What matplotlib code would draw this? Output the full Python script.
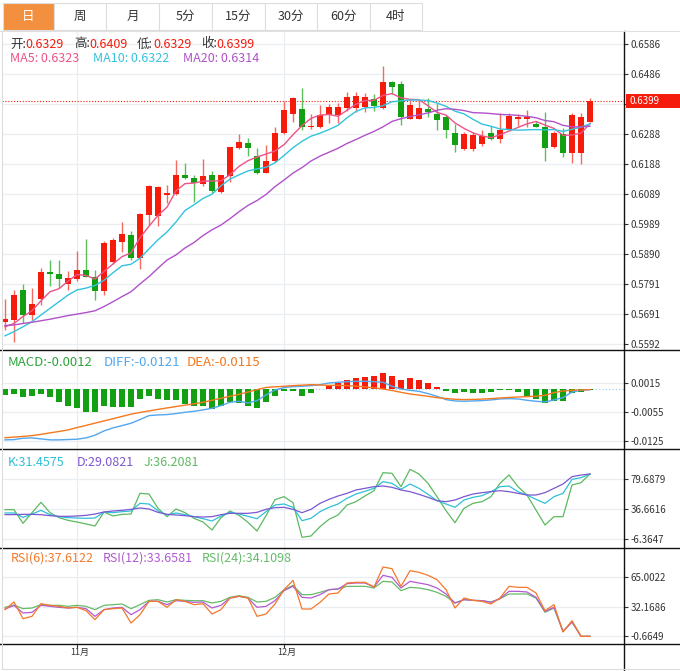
import matplotlib
matplotlib.use('Agg')
import matplotlib.pyplot as plt
import matplotlib.transforms as mtransforms
import numpy as np
from matplotlib.patches import Rectangle
from matplotlib.lines import Line2D

plt.rcParams['font.family'] = ['Noto Sans CJK SC', 'DejaVu Sans']

# data ---------------------------------------------------------------------

tabs = ['日', '周', '月', '5分', '15分', '30分', '60分', '4时']

opens = [0.5665, 0.5673, 0.5772, 0.5689, 0.5742, 0.5832, 0.5824, 0.5793, 0.5808, 0.5837,
         0.5816, 0.5770, 0.5865, 0.5932, 0.5954, 0.5879, 0.6020, 0.6018, 0.6088, 0.6091,
         0.6152, 0.6144, 0.6124, 0.6152, 0.6095, 0.6148, 0.6243, 0.6259, 0.6215, 0.6160,
         0.6200, 0.6292, 0.6354, 0.6371, 0.6312, 0.6312, 0.6351, 0.6350, 0.6376, 0.6376,
         0.6377, 0.6403, 0.6373, 0.6460, 0.6455, 0.6339, 0.6339, 0.6370, 0.6355, 0.6344,
         0.6292, 0.6240, 0.6240, 0.6256, 0.6292, 0.6272, 0.6304, 0.6339, 0.6339, 0.6321,
         0.6312, 0.6245, 0.6289, 0.6224, 0.6224, 0.6329]
highs = [0.5741, 0.5772, 0.5792, 0.5777, 0.5844, 0.5871, 0.5871, 0.5835, 0.5902, 0.5941,
         0.5838, 0.5934, 0.5943, 0.5998, 0.5968, 0.6026, 0.6120, 0.6116, 0.6120, 0.6202,
         0.6191, 0.6153, 0.6205, 0.6166, 0.6152, 0.6246, 0.6288, 0.6275, 0.6242, 0.6252,
         0.6311, 0.6399, 0.6412, 0.6441, 0.6354, 0.6385, 0.6387, 0.6390, 0.6426, 0.6426,
         0.6423, 0.6420, 0.6514, 0.6465, 0.6463, 0.6403, 0.6397, 0.6407, 0.6390, 0.6351,
         0.6321, 0.6296, 0.6296, 0.6300, 0.6316, 0.6357, 0.6357, 0.6355, 0.6368, 0.6333,
         0.6362, 0.6297, 0.6307, 0.6357, 0.6359, 0.6409]
lows = [0.5639, 0.5598, 0.5662, 0.5673, 0.5722, 0.5785, 0.5780, 0.5772, 0.5803, 0.5814,
        0.5739, 0.5755, 0.5858, 0.5897, 0.5871, 0.5840, 0.5987, 0.5985, 0.6059, 0.6086,
        0.6139, 0.6064, 0.6116, 0.6094, 0.6092, 0.6130, 0.6240, 0.6217, 0.6156, 0.6158,
        0.6197, 0.6289, 0.6327, 0.6302, 0.6304, 0.6309, 0.6326, 0.6326, 0.6366, 0.6362,
        0.6360, 0.6366, 0.6371, 0.6420, 0.6318, 0.6338, 0.6338, 0.6344, 0.6300, 0.6276,
        0.6230, 0.6236, 0.6233, 0.6250, 0.6269, 0.6258, 0.6302, 0.6316, 0.6313, 0.6311,
        0.6200, 0.6241, 0.6211, 0.6191, 0.6190, 0.6329]
closes = [0.5676, 0.5755, 0.5689, 0.5726, 0.5832, 0.5826, 0.5808, 0.5811, 0.5837, 0.5816,
          0.5770, 0.5929, 0.5937, 0.5958, 0.5879, 0.6024, 0.6116, 0.6114, 0.6093, 0.6152,
          0.6142, 0.6126, 0.6148, 0.6098, 0.6152, 0.6244, 0.6263, 0.6243, 0.6160, 0.6199,
          0.6293, 0.6369, 0.6408, 0.6313, 0.6315, 0.6351, 0.6378, 0.6379, 0.6412, 0.6414,
          0.6412, 0.6382, 0.6460, 0.6444, 0.6344, 0.6385, 0.6376, 0.6360, 0.6335, 0.6300,
          0.6252, 0.6289, 0.6285, 0.6283, 0.6272, 0.6302, 0.6348, 0.6344, 0.6344, 0.6313,
          0.6243, 0.6292, 0.6227, 0.6351, 0.6344, 0.6399]

ma5 = [0.5650, 0.5661, 0.5684, 0.5703, 0.5736, 0.5766, 0.5776, 0.5801, 0.5823, 0.5820,
       0.5808, 0.5833, 0.5858, 0.5882, 0.5895, 0.5945, 0.5983, 0.6019, 0.6046, 0.6100,
       0.6124, 0.6126, 0.6132, 0.6133, 0.6133, 0.6154, 0.6181, 0.6200, 0.6212, 0.6222,
       0.6232, 0.6253, 0.6286, 0.6316, 0.6340, 0.6351, 0.6353, 0.6347, 0.6367, 0.6387,
       0.6399, 0.6400, 0.6416, 0.6422, 0.6408, 0.6403, 0.6402, 0.6382, 0.6360, 0.6351,
       0.6325, 0.6307, 0.6292, 0.6282, 0.6276, 0.6286, 0.6298, 0.6310, 0.6322, 0.6330,
       0.6318, 0.6307, 0.6284, 0.6285, 0.6291, 0.6323]
ma10 = [0.5620, 0.5634, 0.5650, 0.5667, 0.5689, 0.5711, 0.5733, 0.5755, 0.5772, 0.5778,
        0.5787, 0.5804, 0.5829, 0.5852, 0.5857, 0.5877, 0.5908, 0.5938, 0.5964, 0.5997,
        0.6035, 0.6054, 0.6075, 0.6089, 0.6117, 0.6139, 0.6153, 0.6166, 0.6173, 0.6178,
        0.6193, 0.6217, 0.6243, 0.6264, 0.6281, 0.6291, 0.6303, 0.6317, 0.6342, 0.6363,
        0.6375, 0.6376, 0.6382, 0.6395, 0.6398, 0.6401, 0.6401, 0.6399, 0.6391, 0.6380,
        0.6364, 0.6355, 0.6337, 0.6321, 0.6314, 0.6305, 0.6303, 0.6301, 0.6302, 0.6303,
        0.6302, 0.6303, 0.6297, 0.6304, 0.6311, 0.6322]
ma20 = [0.5654, 0.5656, 0.5661, 0.5665, 0.5670, 0.5675, 0.5681, 0.5687, 0.5692, 0.5697,
        0.5703, 0.5717, 0.5733, 0.5750, 0.5766, 0.5792, 0.5816, 0.5844, 0.5871, 0.5888,
        0.5911, 0.5929, 0.5952, 0.5971, 0.5987, 0.6008, 0.6031, 0.6052, 0.6068, 0.6088,
        0.6114, 0.6136, 0.6159, 0.6177, 0.6199, 0.6215, 0.6228, 0.6241, 0.6257, 0.6270,
        0.6284, 0.6297, 0.6312, 0.6330, 0.6339, 0.6346, 0.6352, 0.6358, 0.6367, 0.6372,
        0.6370, 0.6366, 0.6359, 0.6358, 0.6356, 0.6353, 0.6352, 0.6350, 0.6347, 0.6342,
        0.6333, 0.6329, 0.6317, 0.6312, 0.6312, 0.6314]

macd = [-0.00135, -0.0012, -0.00199, -0.00159, -0.00111, -0.00199, -0.00318, -0.00413, -0.00453, -0.00541,
        -0.00541, -0.00398, -0.00429, -0.00437, -0.00437, -0.00231, -0.00159, -0.00231, -0.00270, -0.00270,
        -0.00358, -0.00398, -0.00413, -0.00469, -0.00413, -0.00310, -0.00334, -0.00413, -0.00453, -0.00318,
        -0.00159, -0.00056, -0.00056, -0.00159, -0.00095, 0.00010, 0.00080, 0.00143, 0.00215, 0.00262,
        0.00286, 0.00310, 0.00382, 0.00318, 0.00223, 0.00262, 0.00207, 0.00143, 0.00056, -0.00040,
        -0.00087, -0.00064, -0.00087, -0.00087, -0.00080, -0.00032, -0.00024, -0.00080, -0.00159, -0.00239,
        -0.00334, -0.00278, -0.00278, -0.00103, -0.00064, -0.00030]
dif = [-0.01216, -0.0121, -0.01177, -0.01169, -0.01193, -0.01216, -0.01216, -0.01208, -0.01200, -0.01169,
       -0.01105, -0.01002, -0.00930, -0.00875, -0.00819, -0.00731, -0.00636, -0.00620, -0.00612, -0.00588,
       -0.00557, -0.00533, -0.00501, -0.00461, -0.00398, -0.00318, -0.00294, -0.00334, -0.00278, -0.00143,
       -0.00024, 0.00032, 0.00056, 0.00064, 0.00080, 0.00103, 0.00143, 0.00159, 0.00175, 0.00183,
       0.00183, 0.00175, 0.00159, 0.00064, 0.00000, -0.00032, -0.00056, -0.00111, -0.00175, -0.00254,
       -0.00286, -0.00294, -0.00286, -0.00278, -0.00262, -0.00239, -0.00231, -0.00239, -0.00270, -0.00294,
       -0.00310, -0.00262, -0.00207, -0.00072, -0.00032, -0.00016]
dea = [-0.01165, -0.0115, -0.01133, -0.01115, -0.01084, -0.01049, -0.01015, -0.00978, -0.00922, -0.00871,
       -0.00816, -0.00763, -0.00710, -0.00656, -0.00602, -0.00561, -0.00525, -0.00488, -0.00453, -0.00420,
       -0.00387, -0.00355, -0.00318, -0.00270, -0.00223, -0.00175, -0.00127, -0.00072, -0.00016, 0.00036,
       0.00052, 0.00064, 0.00080, 0.00091, 0.00103, 0.00095, 0.00087, 0.00087, 0.00080, 0.00068,
       0.00048, 0.00028, 0.00000, -0.00036, -0.00080, -0.00119, -0.00147, -0.00175, -0.00207, -0.00227,
       -0.00246, -0.00254, -0.00250, -0.00242, -0.00231, -0.00215, -0.00203, -0.00191, -0.00183, -0.00173,
       -0.00151, -0.00087, -0.00048, -0.00032, -0.00024, -0.00016]

kdj_k = [31.46, 31.4575, 25.18, 29.96, 35.22, 29.01, 26.14, 24.71, 24.23, 23.75,
         24.23, 32.83, 31.88, 33.31, 34.27, 45.26, 44.31, 34.75, 28.53, 31.40,
         29.01, 26.14, 23.27, 19.92, 27.10, 32.36, 29.96, 26.62, 23.27, 33.31,
         42.87, 44.31, 39.53, 20.40, 23.75, 33.31, 39.53, 44.31, 52.44, 58.65,
         62.48, 66.78, 76.34, 73.95, 65.34, 72.99, 66.78, 58.17, 49.09, 44.31,
         39.53, 50.04, 53.87, 56.26, 62.00, 69.17, 70.13, 62.00, 57.22, 51.00,
         45.26, 54.83, 59.61, 79.69, 82.08, 87.34]
kdj_d = [29.08, 29.0821, 29.49, 29.49, 29.01, 27.57, 26.62, 26.62, 27.10, 28.05,
         29.96, 32.83, 34.27, 35.22, 36.66, 38.57, 37.14, 32.36, 29.49, 28.53,
         27.57, 26.14, 25.66, 26.14, 29.01, 30.92, 30.92, 30.92, 32.36, 36.66,
         39.05, 39.53, 36.66, 31.88, 36.66, 45.26, 51.00, 55.78, 59.61, 64.39,
         66.78, 69.17, 70.13, 68.21, 64.39, 62.00, 58.17, 53.87, 49.09, 47.65,
         50.04, 54.83, 58.65, 60.56, 62.00, 63.43, 62.00, 59.61, 57.22, 57.22,
         60.56, 66.78, 72.99, 83.51, 85.90, 87.34]
kdj_j = [36.21, 36.2081, 16.58, 31.88, 46.70, 31.88, 24.71, 20.88, 18.49, 15.62,
         12.75, 32.83, 27.10, 29.49, 29.96, 59.61, 58.65, 38.09, 26.14, 37.14,
         31.88, 23.75, 18.49, 7.02, 24.71, 34.27, 28.05, 18.01, 5.58, 27.57,
         50.52, 54.83, 46.22, -3.50, -1.59, 11.80, 22.32, 28.53, 42.87, 47.65,
         55.78, 63.43, 89.25, 88.29, 69.17, 94.03, 87.34, 73.95, 54.83, 34.75,
         17.53, 38.09, 45.26, 47.65, 54.83, 73.95, 85.90, 69.17, 57.22, 35.70,
         14.19, 26.14, 26.14, 71.56, 74.91, 87.34]

rsi6 = [29.02, 37.6122, 19.00, 21.60, 35.69, 33.84, 32.73, 30.87, 31.61, 27.90,
        17.89, 29.02, 30.13, 30.87, 14.18, 23.45, 38.29, 38.29, 31.61, 40.14,
        38.29, 34.58, 35.69, 24.19, 29.02, 42.00, 43.86, 42.00, 21.60, 24.19,
        35.32, 51.28, 61.66, 29.76, 29.76, 37.18, 46.45, 47.57, 58.70, 59.44,
        59.44, 54.24, 76.50, 74.65, 54.98, 72.42, 70.57, 67.23, 62.40, 51.28,
        30.87, 42.00, 39.40, 38.29, 35.32, 42.00, 54.98, 53.87, 53.87, 47.57,
        27.90, 34.58, 4.16, 16.77, -0.67, -0.67]
rsi12 = [29.76, 33.6581, 25.31, 26.05, 33.84, 32.73, 31.61, 30.87, 31.61, 30.13,
         21.60, 29.02, 30.87, 31.61, 23.45, 29.02, 38.29, 38.29, 34.58, 39.03,
         38.29, 37.18, 37.55, 30.87, 33.84, 42.00, 43.86, 42.00, 31.61, 32.73,
         39.03, 50.16, 54.98, 42.74, 42.00, 45.71, 51.28, 52.02, 57.95, 58.70,
         58.70, 54.24, 67.23, 65.00, 53.13, 60.55, 58.70, 56.84, 53.13, 46.45,
         36.44, 40.14, 39.40, 39.03, 37.18, 41.26, 49.42, 49.42, 48.68, 42.74,
         27.16, 31.61, 4.90, 15.29, -0.67, -0.67]
rsi24 = [31.61, 34.1098, 30.13, 30.87, 34.58, 33.84, 33.84, 32.73, 33.84, 32.73,
         29.02, 33.84, 34.58, 35.32, 30.13, 34.58, 39.40, 40.14, 37.55, 40.14,
         39.40, 39.03, 39.03, 36.44, 38.29, 42.74, 44.60, 42.74, 37.55, 38.29,
         42.74, 51.28, 56.10, 45.71, 45.71, 48.31, 51.28, 52.02, 54.98, 54.98,
         54.98, 53.13, 60.55, 59.81, 50.16, 53.87, 53.13, 51.28, 48.31, 43.86,
         36.44, 40.14, 39.40, 39.03, 37.55, 41.26, 46.45, 46.45, 46.45, 42.00,
         26.05, 30.87, 4.90, 15.29, -0.67, -0.67]

month_pos = [8, 31]
month_labels = ['11月', '12月']

price_ticks = [0.6586, 0.6486, 0.6387, 0.6288, 0.6188, 0.6089, 0.5989, 0.5890, 0.5791, 0.5691, 0.5592]
macd_ticks = [0.0015, -0.0055, -0.0125]
kdj_ticks = [79.6879, 36.6616, -6.3647]
rsi_ticks = [65.0022, 32.1686, -0.6649]

# style ----------------------------------------------------------------------

RED = '#f51c0c'
GREEN = '#12a012'
RED_WICK = '#f46a5f'
GREEN_WICK = '#5cbf5c'
DARK = '#333333'
GRID = '#e8eef2'
C_MA5, C_MA10, C_MA20 = '#ee5289', '#33c3de', '#b152c9'
C_MACD, C_DIF, C_DEA = '#2ea43c', '#52a7ef', '#f5781f'
C_K, C_D, C_J = '#2fc0d8', '#7b57d2', '#5cb95f'
C_R6, C_R12, C_R24 = '#f5782a', '#b35ad2', '#66bb6a'

W, H = 680, 671
fig = plt.figure(figsize=(W / 100, H / 100), dpi=100)
fig.patch.set_facecolor('white')


def fx(x):
    return x / W


def fy(y):
    return 1 - y / H


def panel(top, bottom, ticks, labels, ylim):
    """Axes placed by pixel box, sharing the candle x scale."""
    ax = fig.add_axes([fx(2), fy(bottom), 622 / W, (bottom - top) / H])
    ax.set_xlim(-1 / 3, 619 / 9)
    ax.set_ylim(*ylim)
    for s in ax.spines.values():
        s.set_visible(False)
    ax.tick_params(axis='x', bottom=False, labelbottom=False)
    ax.yaxis.tick_right()
    ax.set_yticks(ticks, labels)
    ax.tick_params(axis='y', length=3, width=0.8, color=DARK, pad=1.5,
                   labelsize=7, labelcolor=DARK)
    ax.grid(axis='y', color=GRID, lw=0.9)
    for m in month_pos:
        ax.axvline(m, color=GRID, lw=0.9, zorder=0)
    ax.set_axisbelow(True)
    ax.patch.set_alpha(0)
    return ax


def pieces(x0, y, parts, size=9):
    """Write coloured text pieces one after another."""
    r = fig.canvas.get_renderer()
    x = x0
    for s, c in parts:
        t = fig.text(fx(x), fy(y), s, color=c, fontsize=size, va='center', ha='left')
        x += t.get_window_extent(renderer=r).width


def fmt4(vals):
    return [f'{v:.4f}' for v in vals]


x = np.arange(len(closes))
o = np.array(opens)
c = np.array(closes)
up = c >= o

# tabs -------------------------------------------------------------------------
edges = [3, 54, 106, 159, 212, 265, 317, 370, 422]
for i, name in enumerate(tabs):
    x0, x1 = edges[i], edges[i + 1]
    fc = '#f2903f' if i == 0 else 'white'
    fig.add_artist(Rectangle((fx(x0), fy(30)), (x1 - x0) / W, 27 / H,
                             facecolor=fc, edgecolor='#dddddd', lw=0.8))
    fig.text(fx((x0 + x1) / 2), fy(16.5), name, ha='center', va='center',
             fontsize=9, color='white' if i == 0 else DARK)

# main price panel ---------------------------------------------------------------
# the tick nearest the last price sits under the price flag, so its text is hidden
price_labels = ['' if abs(v - closes[-1]) < 0.002 else f'{v:.4f}' for v in price_ticks]
ax = panel(31, 350, price_ticks, price_labels, (0.55731, 0.66294))
ax.vlines(x, lows, highs, colors=np.where(up, RED_WICK, GREEN_WICK), lw=1, zorder=2)
body = np.maximum(np.abs(c - o), 0.00033)
ax.bar(x, body, bottom=np.minimum(o, c), width=0.72,
       color=np.where(up, RED, GREEN), lw=0, zorder=3)
ax.plot(x, ma5, color=C_MA5, lw=1, zorder=4)
ax.plot(x, ma10, color=C_MA10, lw=1, zorder=4)
ax.plot(x, ma20, color=C_MA20, lw=1, zorder=4)
ax.axhline(closes[-1], color=RED, lw=0.8, ls=(0, (1, 1.6)), zorder=1)

# last price flag on the axis
tr = mtransforms.blended_transform_factory(ax.transAxes, ax.transData)
ax.add_patch(Rectangle((1 + 2 / 622, closes[-1] - 0.0023), 60 / 622, 0.0046,
                       transform=tr, facecolor=RED, edgecolor='none',
                       clip_on=False, zorder=6))
ax.text(1 + 6 / 622, closes[-1], f'{closes[-1]:.4f}', transform=tr, color='white',
        fontsize=7, va='center', ha='left', zorder=7, clip_on=False)

pieces(10, 44, [('开:', DARK), (f'{opens[-1]:.4f}', RED)])
pieces(74, 44, [('高:', DARK), (f'{highs[-1]:.4f}', RED)])
pieces(137, 44, [('低:', DARK), (f'{lows[-1]:.4f}', RED)])
pieces(201, 44, [('收:', DARK), (f'{closes[-1]:.4f}', RED)])
pieces(10, 58, [(f'MA5: {ma5[-1]:.4f}', C_MA5)])
pieces(93, 58, [(f'MA10: {ma10[-1]:.4f}', C_MA10)])
pieces(183, 58, [(f'MA20: {ma20[-1]:.4f}', C_MA20)])

# MACD --------------------------------------------------------------------------
ax = panel(350, 449, macd_ticks, fmt4(macd_ticks), (-0.01434, 0.00931))
ax.axhline(0, color='#8fc6f2', lw=0.8, ls=(0, (1, 2)), zorder=1)
mv = np.array(macd)
ax.bar(x, mv, width=0.72, color=np.where(mv > 0, RED, GREEN), lw=0, zorder=2)
ax.plot(x, dif, color=C_DIF, lw=1, zorder=3)
ax.plot(x, dea, color=C_DEA, lw=1, zorder=3)
pieces(8, 362.5, [(f'MACD:{macd[1]:.4f}', C_MACD)], size=9.5)
pieces(104, 362.5, [(f'DIFF:{dif[1]:.4f}', C_DIF)], size=9.5)
pieces(187, 362.5, [(f'DEA:{dea[1]:.4f}', C_DEA)], size=9.5)

# KDJ -----------------------------------------------------------------------------
ax = panel(449, 548, kdj_ticks, fmt4(kdj_ticks), (-18.80, 123.19))
ax.plot(x, kdj_j, color=C_J, lw=0.9, zorder=3)
ax.plot(x, kdj_k, color=C_K, lw=0.9, zorder=3)
ax.plot(x, kdj_d, color=C_D, lw=0.9, zorder=3)
pieces(8, 462, [(f'K:{kdj_k[1]:.4f}', C_K)])
pieces(77, 462, [(f'D:{kdj_d[1]:.4f}', C_D)])
pieces(144, 462, [(f'J:{kdj_j[1]:.4f}', C_J)])

# RSI -------------------------------------------------------------------------------
ax = panel(548, 644, rsi_ticks, fmt4(rsi_ticks), (-9.20, 97.65))
ax.plot(x, rsi24, color=C_R24, lw=0.9, zorder=3)
ax.plot(x, rsi12, color=C_R12, lw=0.9, zorder=3)
ax.plot(x, rsi6, color=C_R6, lw=0.9, zorder=3)
pieces(11, 558, [(f'RSI(6):{rsi6[1]:.4f}', C_R6)])
pieces(103, 558, [(f'RSI(12):{rsi12[1]:.4f}', C_R12)])
pieces(202, 558, [(f'RSI(24):{rsi24[1]:.4f}', C_R24)])

# month labels under the last panel
mtr = mtransforms.blended_transform_factory(ax.transData, ax.transAxes)
for m, lab in zip(month_pos, month_labels):
    ax.text(m + 0.35, -0.09, lab, transform=mtr, ha='center', va='center',
            fontsize=6.5, color=DARK, clip_on=False)
    ax.plot([m, m], [0, -0.03], transform=mtr, color=DARK, lw=0.8, clip_on=False)

# frame lines ---------------------------------------------------------------------
for yy in (350, 449, 548, 644):
    fig.add_artist(Line2D([0, 1], [fy(yy), fy(yy)], color='#111111', lw=1))
fig.add_artist(Line2D([fx(624), fx(624)], [fy(31), 0], color='#111111', lw=1))
fig.add_artist(Line2D([0, 1], [fy(30.5), fy(30.5)], color='#e0e0e0', lw=0.8))
fig.add_artist(Line2D([fx(1.5), fx(1.5)], [fy(31), fy(669)], color='#dddddd', lw=0.8))
fig.add_artist(Line2D([fx(1.5), 1], [fy(669), fy(669)], color='#dddddd', lw=0.8))

fig.savefig('out.png', dpi=100, facecolor='white')
